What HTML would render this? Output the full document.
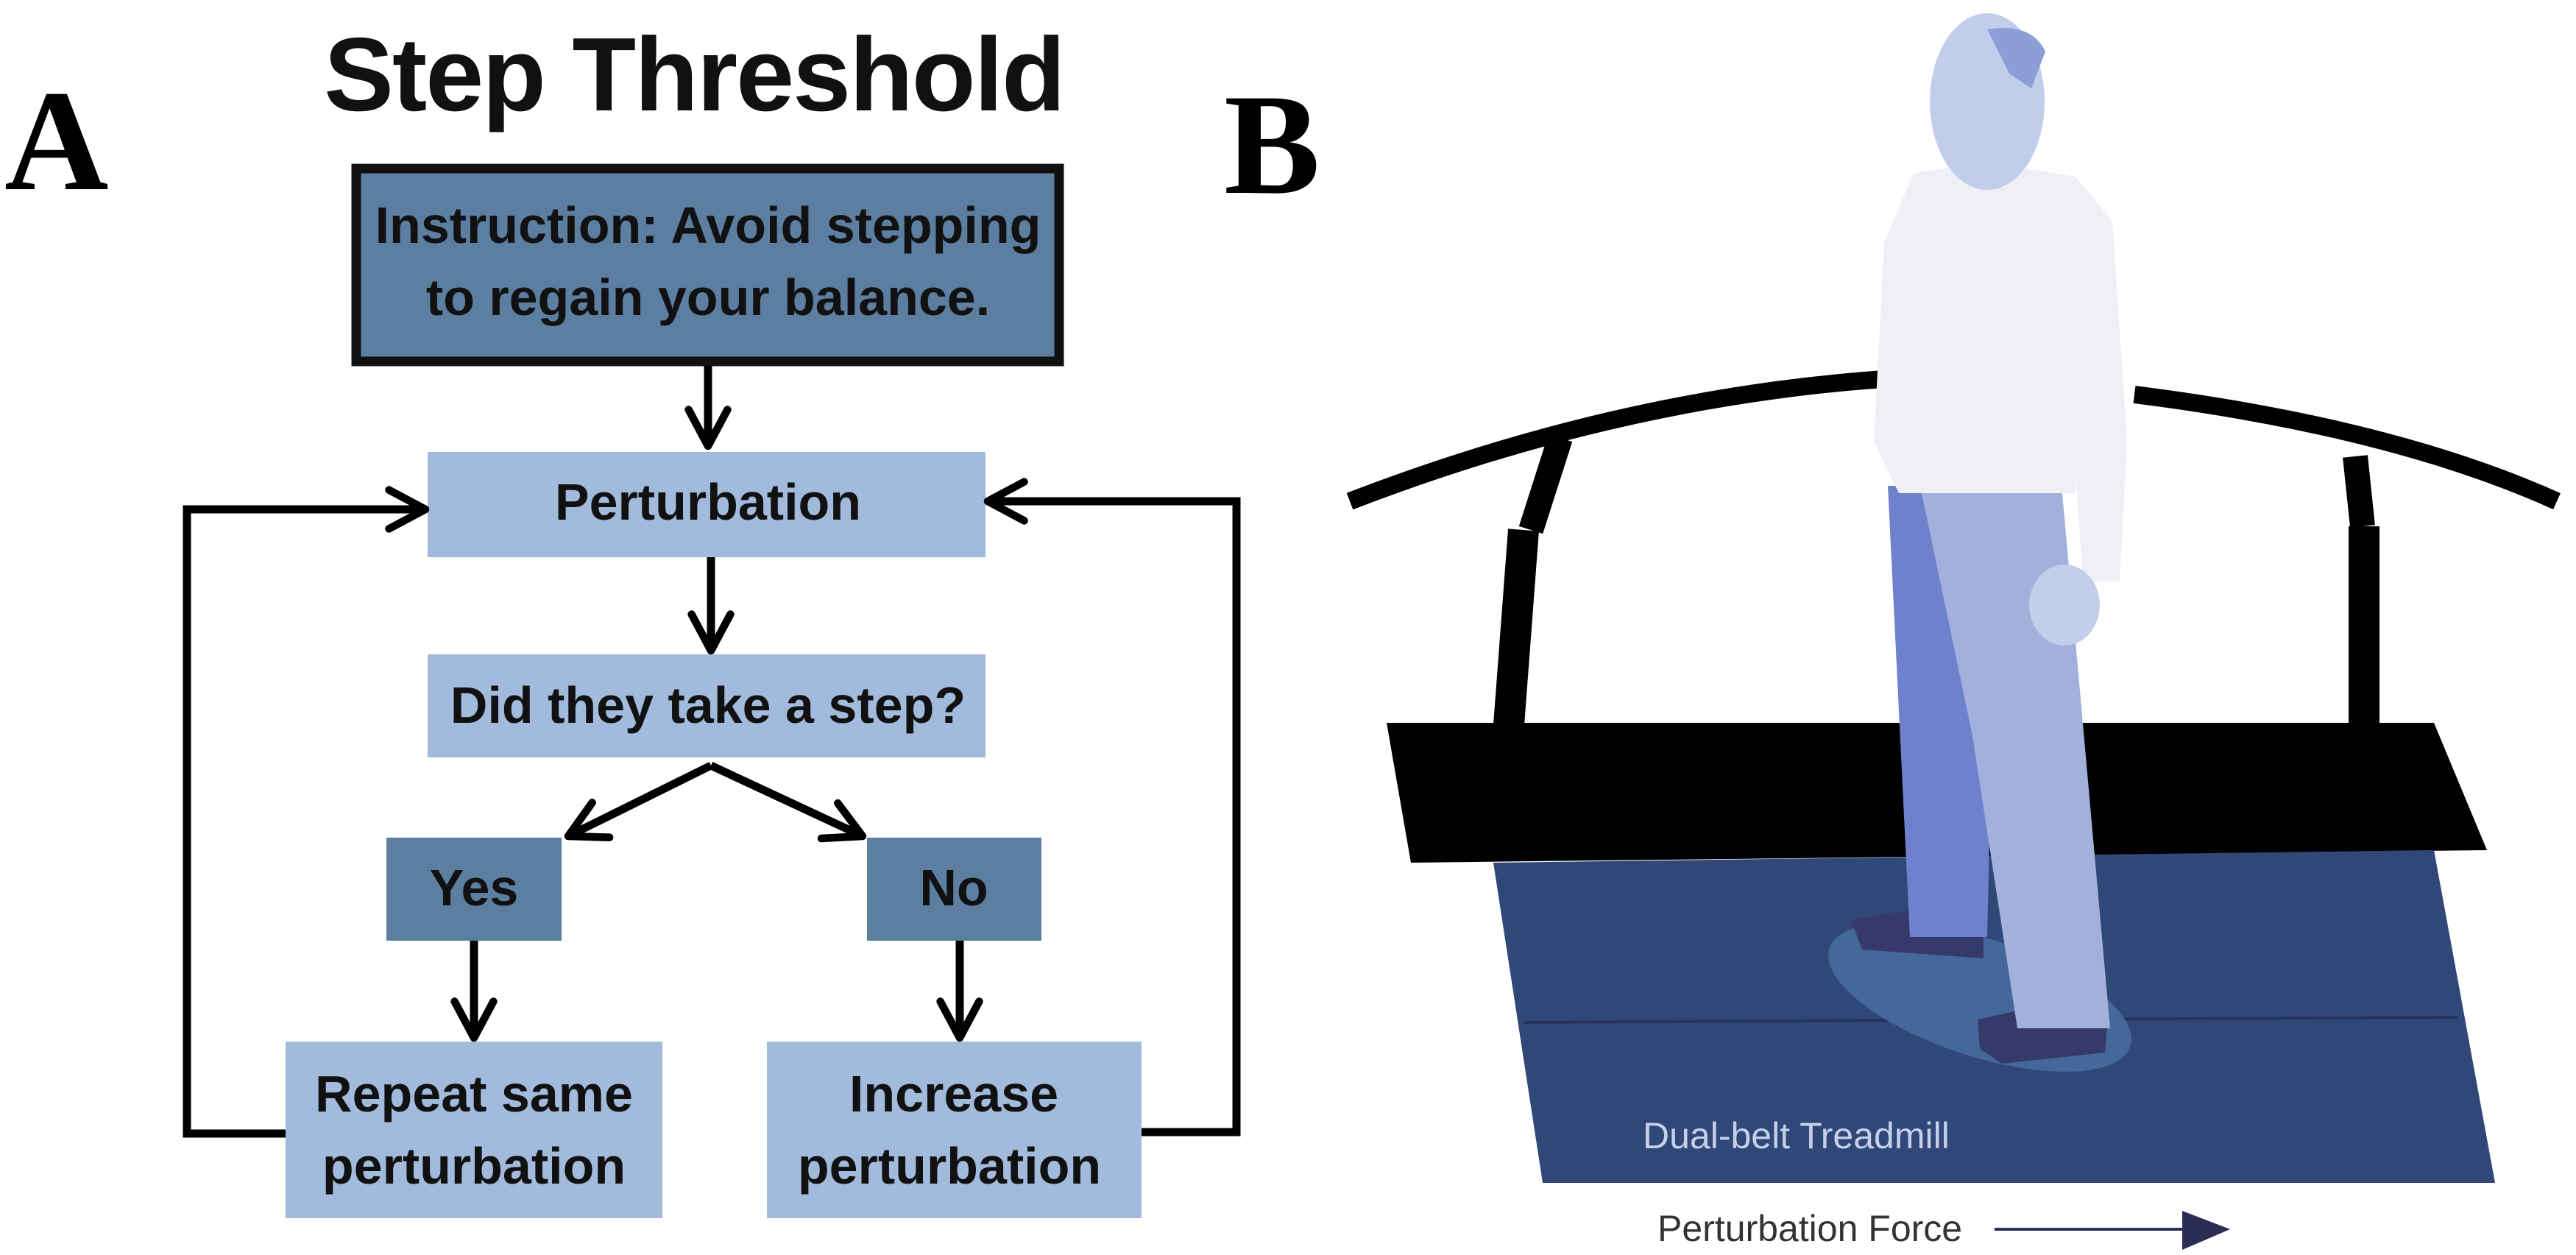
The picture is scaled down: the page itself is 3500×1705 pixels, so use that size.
<!DOCTYPE html>
<html><head><meta charset="utf-8"><style>
html,body{margin:0;padding:0;background:#fff;}
svg{display:block;}
</style></head><body>
<svg width="3500" height="1705" viewBox="0 0 3500 1705" xmlns="http://www.w3.org/2000/svg">
<defs>
<marker id="ah" viewBox="0 0 20 20" refX="17" refY="10" markerWidth="6" markerHeight="6" orient="auto" markerUnits="strokeWidth">
<path d="M2,2 L17,10 L2,18" fill="none" stroke="#000" stroke-width="3.2" stroke-linecap="round" stroke-linejoin="round"/>
</marker>
</defs>
<!-- Panel A -->
<text x="6" y="257" font-family="Liberation Serif, serif" font-weight="bold" font-size="196" fill="#000">A</text>
<text x="943" y="150" text-anchor="middle" font-family="Liberation Sans, sans-serif" font-weight="bold" font-size="142" fill="#111" letter-spacing="-2">Step Threshold</text>

<rect x="484" y="229" width="955" height="262" fill="#5b7ea1" stroke="#111" stroke-width="13"/>
<text x="962" y="330" text-anchor="middle" font-family="Liberation Sans, sans-serif" font-weight="bold" font-size="70" fill="#111">Instruction: Avoid stepping</text>
<text x="962" y="428" text-anchor="middle" font-family="Liberation Sans, sans-serif" font-weight="bold" font-size="70" fill="#111">to regain your balance.</text>

<rect x="581" y="614" width="758" height="143" fill="#a2bbdc"/>
<text x="962" y="706" text-anchor="middle" font-family="Liberation Sans, sans-serif" font-weight="bold" font-size="70" fill="#111">Perturbation</text>

<rect x="581" y="889" width="758" height="140" fill="#a2bbdc"/>
<text x="962" y="982" text-anchor="middle" font-family="Liberation Sans, sans-serif" font-weight="bold" font-size="70" fill="#111">Did they take a step?</text>

<rect x="525" y="1138" width="238" height="140" fill="#5b7ea1"/>
<text x="644" y="1230" text-anchor="middle" font-family="Liberation Sans, sans-serif" font-weight="bold" font-size="70" fill="#111">Yes</text>
<rect x="1178" y="1138" width="237" height="140" fill="#5b7ea1"/>
<text x="1296" y="1230" text-anchor="middle" font-family="Liberation Sans, sans-serif" font-weight="bold" font-size="70" fill="#111">No</text>

<rect x="388" y="1415" width="512" height="240" fill="#a2bbdc"/>
<text x="644" y="1510" text-anchor="middle" font-family="Liberation Sans, sans-serif" font-weight="bold" font-size="70" fill="#111">Repeat same</text>
<text x="644" y="1608" text-anchor="middle" font-family="Liberation Sans, sans-serif" font-weight="bold" font-size="70" fill="#111">perturbation</text>
<rect x="1042" y="1415" width="509" height="240" fill="#a2bbdc"/>
<text x="1296" y="1510" text-anchor="middle" font-family="Liberation Sans, sans-serif" font-weight="bold" font-size="70" fill="#111">Increase</text>
<text x="1290" y="1608" text-anchor="middle" font-family="Liberation Sans, sans-serif" font-weight="bold" font-size="70" fill="#111">perturbation</text>

<g stroke="#000" stroke-width="11" fill="none" marker-end="url(#ah)">
<line x1="962" y1="497" x2="962" y2="606"/>
<line x1="966" y1="757" x2="966" y2="884"/>
<line x1="966" y1="1040" x2="772" y2="1136"/>
<line x1="966" y1="1040" x2="1172" y2="1136"/>
<line x1="644" y1="1278" x2="644" y2="1410"/>
<line x1="1304" y1="1278" x2="1304" y2="1410"/>
<polyline points="388,1540 254,1540 254,692 578,692"/>
<polyline points="1551,1538 1680,1538 1680,681 1342,681"/>
</g>

<!-- Panel B -->
<text x="1663" y="262" font-family="Liberation Serif, serif" font-weight="bold" font-size="196" fill="#000">B</text>
<path d="M1834,681 Q2200,540 2560,515" stroke="#000" stroke-width="24" fill="none"/>
<path d="M2900,536 Q3250,580 3474,681" stroke="#000" stroke-width="24" fill="none"/>
<path d="M2120,595 L2080,720" stroke="#000" stroke-width="34" fill="none"/>
<path d="M2070,720 L2050,985" stroke="#000" stroke-width="42" fill="none"/>
<path d="M3200,620 L3210,715" stroke="#000" stroke-width="34" fill="none"/>
<path d="M3212,715 L3212,990" stroke="#000" stroke-width="42" fill="none"/>
<polygon points="1884,982 3307,982 3379,1155 1917,1172" fill="#000"/>
<polygon points="2029,1172 3307,1155 3390,1607 2096,1607" fill="#2f4878"/>
<line x1="2070" y1="1389" x2="3340" y2="1382" stroke="#24345e" stroke-width="4"/>
<!-- person -->
<ellipse cx="2690" cy="1355" rx="215" ry="80" transform="rotate(18 2690 1355)" fill="#44689a"/>
<polygon points="2515,1250 2600,1235 2695,1262 2695,1302 2530,1290" fill="#353a6a"/>
<polygon points="2687,1385 2760,1369 2863,1395 2860,1430 2720,1445 2690,1425" fill="#353a6a"/>
<polygon points="2565,660 2714,660 2700,1273 2595,1273" fill="#6f80cc"/>
<polygon points="2611,670 2802,670 2867,1397 2741,1397 2680,1000" fill="#a2b1dc"/>
<polygon points="2560,330 2600,235 2700,220 2820,240 2870,300 2890,600 2880,790 2830,790 2820,640 2820,670 2580,670 2546,600" fill="#eef0f6"/>
<ellipse cx="2805" cy="822" rx="48" ry="55" fill="#c3cee9"/>
<ellipse cx="2700" cy="138" rx="78" ry="120" fill="#c0cdeb"/>
<path d="M2700,40 Q2760,30 2779,70 L2760,120 L2730,100 Z" fill="#8b9ed6"/>
<text x="2232" y="1560" font-family="Liberation Sans, sans-serif" font-size="50" fill="#c7cfe9">Dual-belt Treadmill</text>
<text x="2252" y="1686" font-family="Liberation Sans, sans-serif" font-size="50" fill="#333">Perturbation Force</text>
<line x1="2710" y1="1670" x2="2975" y2="1670" stroke="#2b2d55" stroke-width="4"/>
<polygon points="2965,1645 3030,1670 2965,1698" fill="#2b2d55"/>
</svg>
</body></html>
